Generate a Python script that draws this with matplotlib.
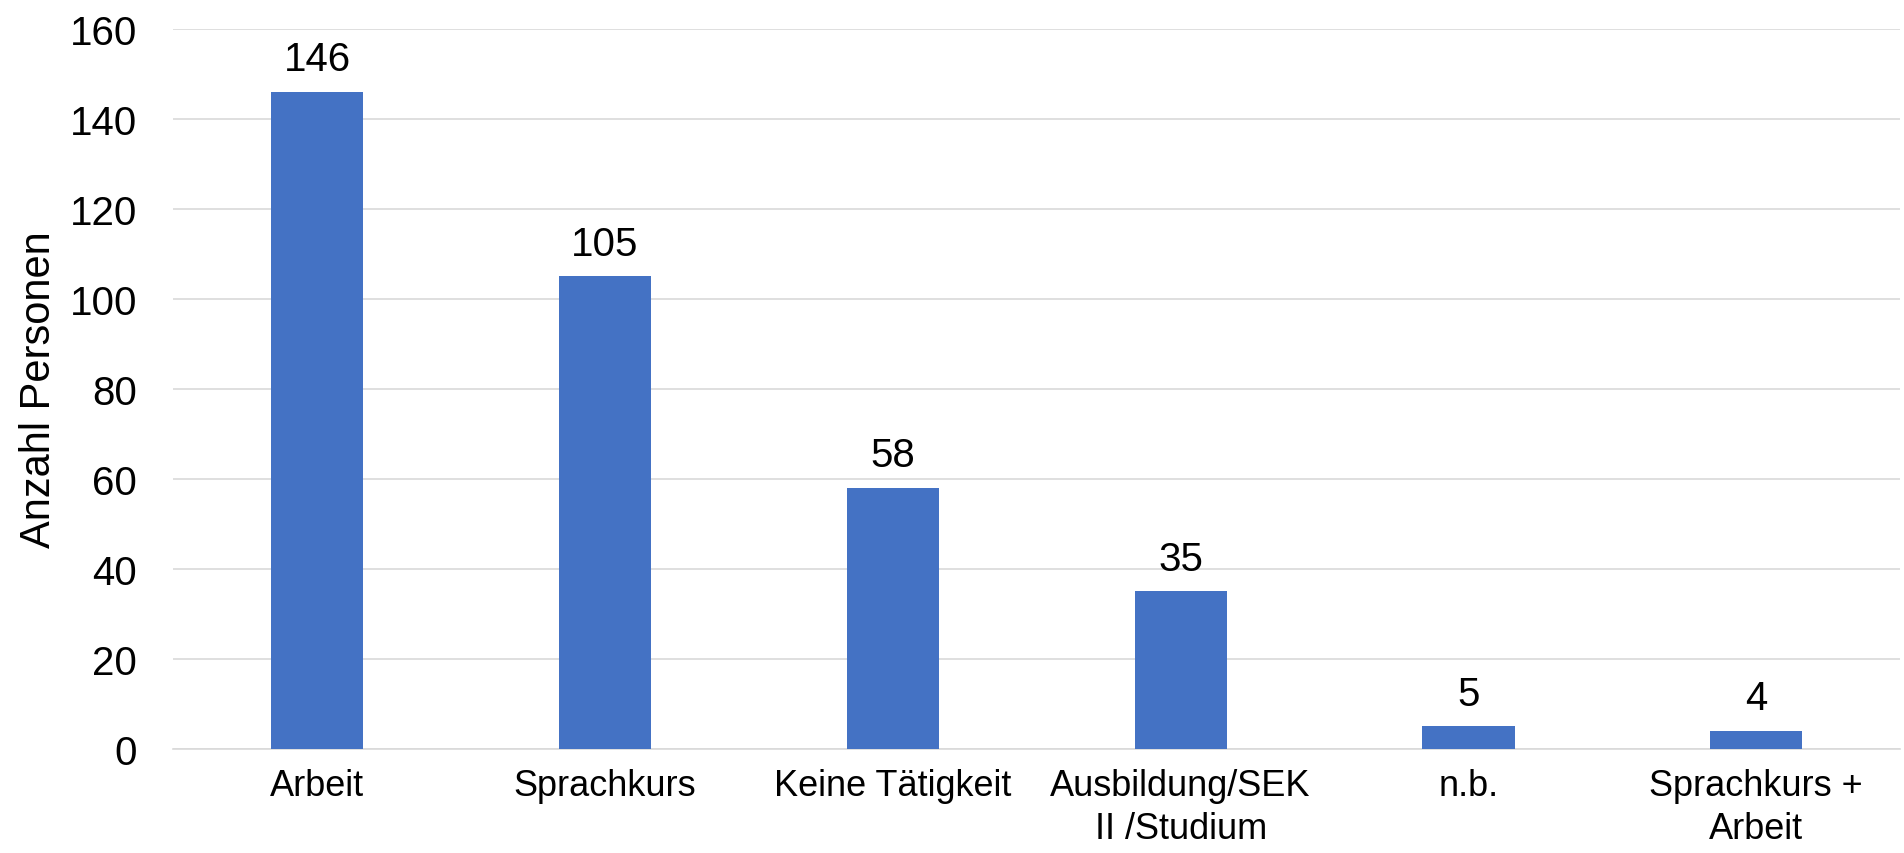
import matplotlib.pyplot as plt
import numpy as np

# data
categories = ['Arbeit', 'Sprachkurs', 'Keine Tätigkeit', 'Ausbildung/SEK\nII /Studium', 'n.b.', 'Sprachkurs +\nArbeit']
counts = [146, 105, 58, 35, 5, 4]

plt.rcParams['font.family'] = ['Liberation Sans', 'DejaVu Sans']

fig = plt.figure(figsize=(19.04, 8.54), dpi=100)
ax = fig.add_axes([0.091, 0.122, 0.907, 0.843])

x = np.arange(len(categories))
bars = ax.bar(x, counts, width=0.32, color='#4472C4', zorder=3)

for xi, v in zip(x, counts):
    ax.text(xi, v + 3, str(v), ha='center', va='bottom', fontsize=29)

ax.set_xlim(-0.5, len(categories) - 0.5)
ax.set_ylim(0, 160)
ax.set_yticks(range(0, 161, 20))
ax.set_xticks(x)
ax.set_xticklabels(categories, fontsize=26, linespacing=1.3)
ax.tick_params(axis='y', labelsize=29, length=0, pad=26)
ax.tick_params(axis='x', length=0, pad=14)
ax.yaxis.grid(True, color='#d9d9d9', linewidth=1.2, zorder=0)
for s in ['top', 'right', 'left']:
    ax.spines[s].set_visible(False)
ax.spines['bottom'].set_color('#d9d9d9')
ax.spines['bottom'].set_linewidth(1.2)
ax.set_ylabel('Anzahl Personen', fontsize=30, labelpad=8)

fig.savefig('out.png', dpi=100)
